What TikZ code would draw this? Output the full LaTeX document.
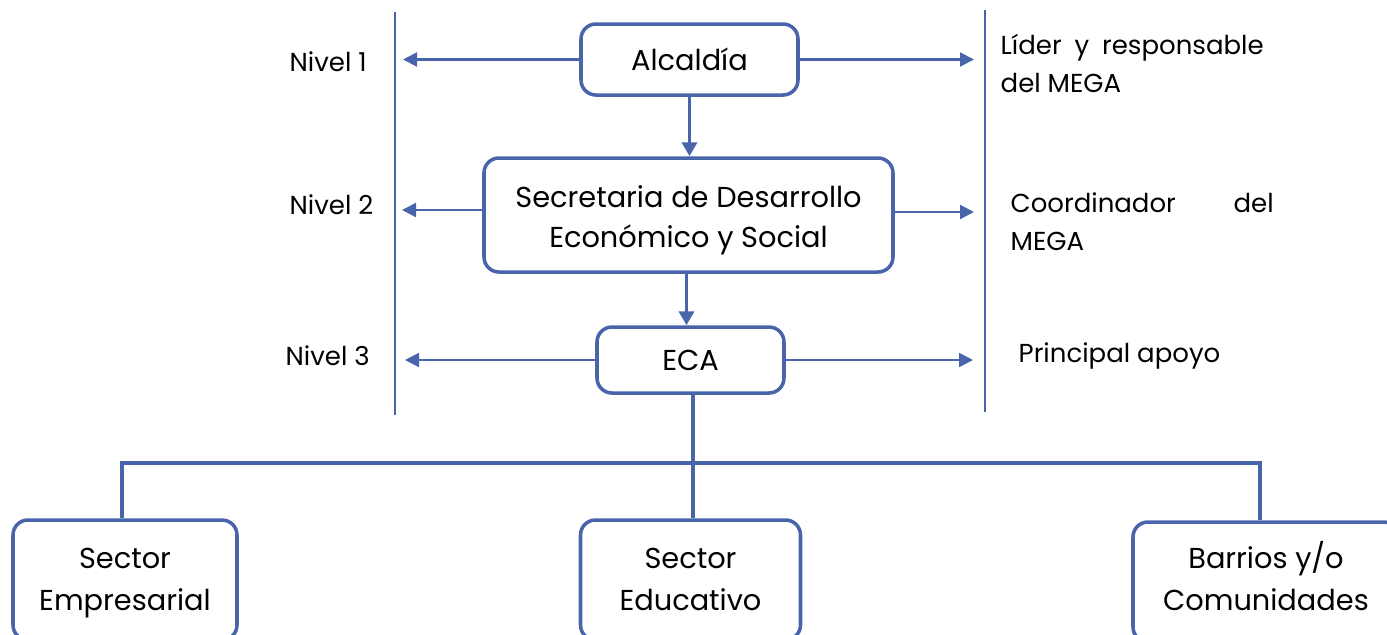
\documentclass[tikz,border=0pt]{standalone}
\usepackage{fontspec}
\setmainfont{Poppins}
\usepackage{tikz}
\usetikzlibrary{arrows.meta, calc}
\definecolor{orgblue}{RGB}{72,101,172}

\newcommand{\boxfont}{\fontsize{8.2}{11.4}\selectfont}
\newcommand{\sectfont}{\fontsize{8.2}{12}\selectfont}
\newcommand{\sidefont}{\fontsize{7.4}{10.8}\selectfont}

\tikzset{
	unit/.style={draw=orgblue, line width=1pt, rounded corners=1.5mm, align=center, font=\boxfont, inner sep=0pt},
	sector/.style={unit, font=\sectfont, text height=19.4pt, text depth=2pt},
	side/.style={font=\sidefont, inner sep=0pt},
	link/.style={draw=orgblue, line width=0.6pt, -{Triangle[length=1.4mm,width=1.4mm]}},
	down/.style={draw=orgblue, line width=1pt, -{Triangle[length=1.4mm,width=1.5mm]}},
	bus/.style={draw=orgblue, line width=1pt},
	rule/.style={draw=orgblue, line width=0.6pt}
}

\begin{document}
\begin{tikzpicture}
		\clip (0,0) rectangle (13.87,-6.34);
		\useasboundingbox (0,0) rectangle (13.87,-6.34);
		
		% boxes of the three levels
		\node[unit, minimum width=2.17cm, minimum height=0.71cm] (alc) at (6.895,-0.595) {Alcaldía};
		\node[unit, minimum width=4.09cm, minimum height=1.14cm, text height=20.5pt, text depth=2pt] (sec) at (6.885,-2.15) {Secretaria de Desarrollo\\Económico y Social};
		\node[unit, minimum width=1.87cm, minimum height=0.66cm] (eca) at (6.905,-3.60) {ECA};
		
		% sectors
		\node[sector, minimum width=2.24cm, minimum height=1.2cm] (emp) at (1.25,-5.80) {Sector\\Empresarial};
		\node[sector, minimum width=2.20cm, minimum height=1.2cm] (edu) at (6.905,-5.80) {Sector\\Educativo};
		\node[sector, minimum width=2.66cm, minimum height=1.2cm, text height=18.2pt] (bar) at (12.66,-5.82) {Barrios y/o\\Comunidades};
		
		% side rules
		\coordinate (lt) at (3.95,-0.12);
		\coordinate (lb) at (3.95,-4.15);
		\coordinate (rt) at (9.85,-0.10);
		\coordinate (rb) at (9.85,-4.12);
		\draw[rule] (lt) -- (lb);
		\draw[rule] (rt) -- (rb);
		
		% arrow ends
		\coordinate (l1) at (4.03,-0.595);
		\coordinate (r1) at (9.74,-0.595);
		\coordinate (l2) at (4.02,-2.10);
		\coordinate (r2) at (9.74,-2.12);
		\coordinate (l3) at (4.05,-3.60);
		\coordinate (r3) at (9.73,-3.60);
		\draw[link] (alc) -- (l1);
		\draw[link] (alc) -- (r1);
		\draw[link] (sec.west |- l2) -- (l2);
		\draw[link] (sec.east |- r2) -- (r2);
		\draw[link] (eca) -- (l3);
		\draw[link] (eca) -- (r3);
		
		\draw[down] (alc.south) -- (alc.south |- sec.north);
		\draw[down] ([xshift=-0.02cm]sec.south) -- ([xshift=-0.02cm]sec.south |- eca.north);
		
		% tree to the sectors
		\coordinate (hub) at (6.93,-4.63);
		\draw[bus] (eca.south -| hub) -- (hub);
		\draw[bus] ([xshift=-0.03cm]emp.north) |- (hub) -| ([xshift=-0.06cm]bar.north);
		\draw[bus] (hub) -- (edu.north -| hub);
		
		% levels
		\node[side, anchor=west] (n1) at (2.89,-0.62) {Nivel 1};
		\node[side, anchor=west] (n2) at (2.89,-2.05) {Nivel 2};
		\node[side, anchor=west] (n3) at (2.85,-3.56) {Nivel 3};
		
		% roles
		\node[side, anchor=west, text width=2.63cm, align=justify] (role1) at (10.00,-0.63) {Líder y responsable\linebreak del MEGA};
		\node[side, anchor=west, text width=2.63cm, align=justify] (role2) at (10.10,-2.215) {Coordinador del\linebreak MEGA};
		\node[side, anchor=west] (role3) at (10.18,-3.56) {Principal apoyo};
	\end{tikzpicture}
\end{document}
